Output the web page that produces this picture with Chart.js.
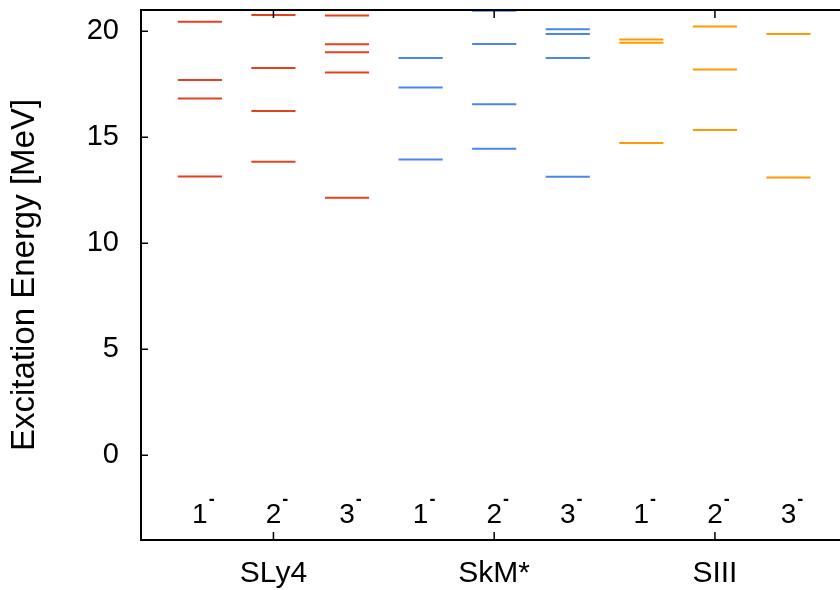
<!DOCTYPE html>
<html>
<head>
<meta charset="utf-8">
<script src="https://cdn.jsdelivr.net/npm/chart.js@4"></script>
<style>
  body { margin: 0; background: #fff; }
  #wrap { width: 840px; height: 590px; }
</style>
</head>
<body>
<div id="wrap"><canvas id="myChart" width="840" height="590"></canvas></div>
<script>
// excitation levels (MeV) per multipole
let groupLabels = ['SLy4', 'SkM*', 'SIII'];
let columnLabels = ['1', '2', '3', '1', '2', '3', '1', '2', '3'];
let sly4Levels = [
    [20.44, 17.70, 16.82, 13.15],         // 1-
    [20.77, 18.27, 16.23, 13.84],         // 2-
    [20.74, 19.39, 19.01, 18.05, 12.14]   // 3-
];
let skmLevels = [
    [18.74, 17.34, 13.95],
    [20.96, 19.40, 16.56, 14.45],
    [20.09, 19.87, 18.74, 13.13]
];
let siiiLevels = [
    [19.61, 19.45, 14.73],
    [20.22, 18.19, 15.34],
    [19.87, 13.10]
];
let yTicks = [0, 5, 10, 15, 20];
let groupColors = ['#e3401e', '#4a86e8', '#ff9a00'];

let halfWidth = 0.3;
let datasets = [];
[sly4Levels, skmLevels, siiiLevels].forEach(function (group, g) {
    group.forEach(function (levels, k) {
        let col = g * 3 + k + 1;
        levels.forEach(function (e) {
            datasets.push({
                data: [{x: col - halfWidth, y: e}, {x: col + halfWidth, y: e}],
                borderColor: groupColors[g],
                borderWidth: 2,
                pointRadius: 0,
                showLine: true
            });
        });
    });
});

// inward ticks, top frame line and the J^pi labels inside the plot
let framePlugin = {
    id: 'frame',
    afterDraw: function (chart) {
        let c = chart.ctx, a = chart.chartArea;
        let xs = chart.scales.x, ys = chart.scales.y;
        c.save();
        c.strokeStyle = '#000';
        c.lineWidth = 2;
        c.beginPath();
        c.moveTo(a.left, a.top);
        c.lineTo(a.right, a.top);
        c.stroke();
        c.lineWidth = 1.5;
        c.beginPath();
        yTicks.forEach(function (v) {
            let y = ys.getPixelForValue(v);
            c.moveTo(a.left, y);
            c.lineTo(a.left + 7, y);
        });
        [2, 5, 8].forEach(function (v) {
            let x = xs.getPixelForValue(v);
            c.moveTo(x, a.bottom);
            c.lineTo(x, a.bottom - 8);
            c.moveTo(x, a.top);
            c.lineTo(x, a.top + 8);
        });
        c.stroke();

        c.fillStyle = '#000';
        let yBase = ys.getPixelForValue(-3.2);
        columnLabels.forEach(function (lab, i) {
            let x = xs.getPixelForValue(i + 1);
            c.font = '28px "Liberation Sans", Arial, sans-serif';
            c.textAlign = 'center';
            c.textBaseline = 'alphabetic';
            c.fillText(lab, x, yBase);
            let w = c.measureText(lab).width;
            c.font = 'bold 18px "Liberation Sans", Arial, sans-serif';
            c.textAlign = 'left';
            c.fillText('-', x + w / 2 + 1, yBase - 18);
        });
        c.restore();
    }
};

function noPad(scale) {
    scale.paddingTop = 0;
    scale.paddingBottom = 0;
    scale.paddingLeft = 0;
    scale.paddingRight = 0;
}

let ctx = document.getElementById('myChart').getContext('2d');
let myChart = new Chart(ctx, {
    type: 'scatter',
    data: { datasets: datasets },
    options: {
        responsive: false,
        animation: false,
        layout: { padding: { top: 10, left: 0, right: 0, bottom: 0 } },
        plugins: { legend: { display: false }, tooltip: { enabled: false } },
        scales: {
            x: {
                type: 'linear',
                min: 0.2,
                max: 9.7,
                afterBuildTicks: function (scale) {
                    scale.ticks = [2, 5, 8].map(function (v) { return {value: v}; });
                },
                afterFit: function (scale) { scale.height = 50; noPad(scale); },
                ticks: {
                    autoSkip: false,
                    maxRotation: 0,
                    padding: 16,
                    color: '#000',
                    font: { family: '"Liberation Sans", Arial, sans-serif', size: 30 },
                    callback: function (v) { return groupLabels[(v - 2) / 3]; }
                },
                grid: { display: false, drawTicks: false },
                border: { display: true, color: '#000', width: 2 }
            },
            y: {
                min: -4,
                max: 21,
                afterBuildTicks: function (scale) {
                    scale.ticks = yTicks.map(function (v) { return {value: v}; });
                },
                afterFit: function (scale) { scale.width = 141; noPad(scale); },
                ticks: {
                    padding: 22,
                    color: '#000',
                    font: { family: '"Liberation Sans", Arial, sans-serif', size: 29 }
                },
                grid: { display: false, drawTicks: false },
                border: { display: true, color: '#000', width: 2 },
                title: {
                    display: true,
                    text: 'Excitation Energy [MeV]',
                    color: '#000',
                    padding: { top: 5, bottom: 0 },
                    font: { family: '"Liberation Sans", Arial, sans-serif', size: 33 }
                }
            }
        }
    },
    plugins: [framePlugin]
});
</script>
</body>
</html>
